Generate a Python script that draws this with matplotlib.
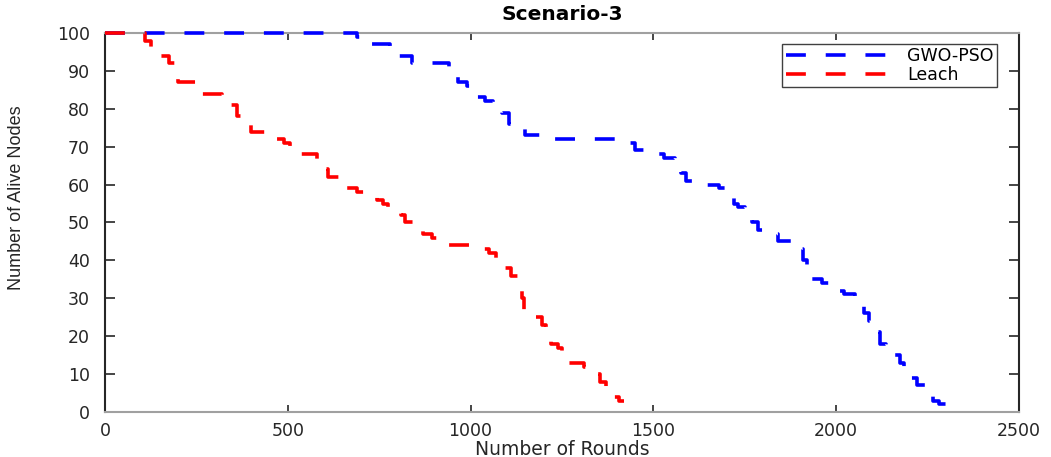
import numpy as np
import matplotlib.pyplot as plt

# step data: round where the alive count drops, new count
gwo_rounds = [0, 690, 700, 780, 800, 840, 940, 950, 965, 990, 1010, 1040, 1060,
              1085, 1105, 1125, 1150, 1225, 1430, 1450, 1505, 1530, 1560, 1575,
              1590, 1620, 1680, 1710, 1720, 1730, 1750, 1770, 1785, 1810, 1840,
              1900, 1910, 1920, 1930, 1960, 1990, 2020, 2050, 2060, 2075, 2090,
              2110, 2120, 2135, 2155, 2175, 2185, 2205, 2220, 2245, 2265, 2280, 2300]
gwo_alive = [100, 99, 97, 95, 94, 92, 91, 89, 87, 86, 83, 82, 80,
             79, 76, 75, 73, 72, 71, 69, 68, 67, 65, 63,
             61, 60, 59, 58, 55, 54, 52, 50, 48, 47, 45,
             43, 40, 38, 35, 34, 32, 31, 30, 28, 26, 24,
             21, 18, 17, 15, 13, 10, 9, 7, 5, 3, 2, 2]

leach_rounds = [0, 110, 125, 175, 200, 255, 320, 345, 360, 385, 400, 465, 490,
                505, 580, 600, 610, 645, 655, 690, 725, 745, 760, 775, 810, 820,
                850, 870, 895, 925, 1020, 1050, 1070, 1085, 1110, 1130, 1140,
                1145, 1165, 1195, 1205, 1220, 1240, 1250, 1265, 1310, 1340, 1355,
                1370, 1390, 1405, 1420]
leach_alive = [100, 98, 94, 92, 87, 84, 82, 81, 78, 77, 74, 72, 71,
               68, 66, 64, 62, 61, 59, 58, 57, 56, 55, 53, 52, 50,
               49, 47, 46, 44, 43, 42, 40, 38, 36, 34, 30,
               26, 25, 23, 21, 18, 17, 14, 13, 12, 10, 8,
               6, 4, 3, 3]

xticks = [0, 500, 1000, 1500, 2000, 2500]
yticks = list(range(0, 101, 10))

fig = plt.figure(figsize=(10.51, 4.57), dpi=100)
ax = fig.add_axes([0.0999, 0.0985, 0.8697, 0.8293])

lw = 2.6
ax.step(gwo_rounds, gwo_alive, where='post', color='#0000ff', lw=lw,
        dashes=(5.5, 5.5), label='GWO-PSO', zorder=3, clip_on=False)
ax.step(leach_rounds, leach_alive, where='post', color='#ff0000', lw=lw,
        dashes=(5.5, 5.5), label='Leach', zorder=3, clip_on=False)

ax.set_xlim(0, 2500)
ax.set_ylim(0, 100)
ax.set_xticks(xticks)
ax.set_yticks(yticks)

tickfont = {'family': 'DejaVu Sans', 'size': 12.5, 'color': '#262626'}
ax.set_xticklabels([str(t) for t in xticks], fontdict=tickfont)
ax.set_yticklabels([str(t) for t in yticks], fontdict=tickfont)
ax.tick_params(axis='x', direction='in', length=5, width=1.2, top=True,
               color='#262626', pad=7)
ax.tick_params(axis='y', direction='in', length=7, width=1.2, right=True,
               color='#262626', pad=11)

for side in ['left', 'right']:
    ax.spines[side].set_color('#262626')
    ax.spines[side].set_linewidth(1.5)
for side in ['top', 'bottom']:
    ax.spines[side].set_color('#a0a0a0')
    ax.spines[side].set_linewidth(1.5)

ax.set_title('Scenario-3', fontsize=14.5, fontweight='bold',
             family='DejaVu Sans', pad=9)
ax.set_xlabel('Number of Rounds', fontsize=13.5, family='DejaVu Sans',
              color='#262626', labelpad=0)
ax.set_ylabel('Number of Alive Nodes', fontsize=13,
              family=['Liberation Sans', 'DejaVu Sans'], color='#262626')
ax.yaxis.set_label_coords(-0.087, 0.565)

leg = ax.legend(loc='upper right', bbox_to_anchor=(0.976, 0.971),
                borderaxespad=0, fontsize=12.5, handlelength=6.2,
                handletextpad=0.8, borderpad=0.2, labelspacing=0.02,
                fancybox=False, framealpha=1, edgecolor='#404040')
leg.get_frame().set_linewidth(1.0)

fig.savefig('out.png', dpi=100)
